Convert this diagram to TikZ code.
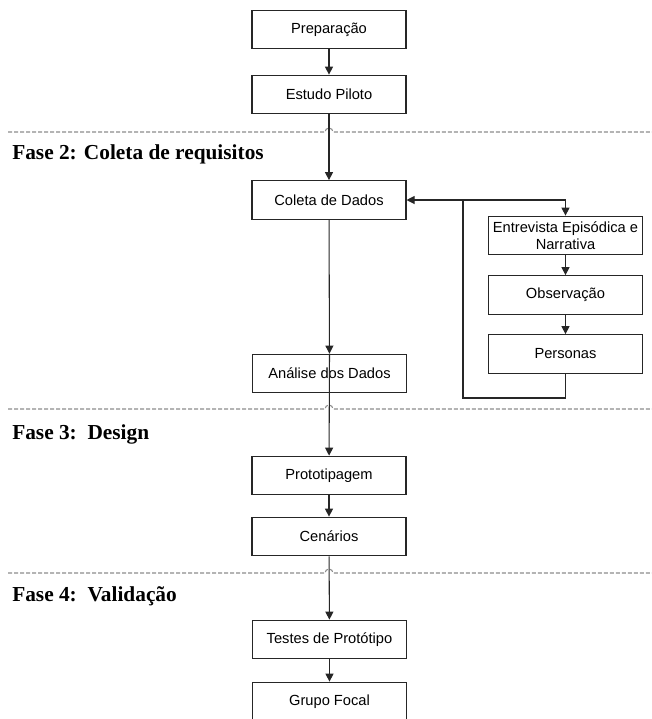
\documentclass[tikz,border=0pt]{standalone}
\usepackage{fontspec}
\setmainfont{Liberation Serif}
\newfontfamily\boxfont{Liberation Sans}
\usepackage{tikz}
\usetikzlibrary{arrows.meta}

\tikzset{
  etapa/.style={draw=black!85, line width=0.8pt, fill=white, minimum width=115.5pt,
    minimum height=29pt, inner sep=1pt, align=center, font=\boxfont\fontsize{11}{12.5}\selectfont},
  seta/.style={-{Triangle[length=6pt,width=6pt]}, line width=0.8pt, black!85},
  linha/.style={line width=0.8pt, black!85},
  fase/.style={anchor=west, inner sep=0pt, font=\bfseries\fontsize{16}{18}\selectfont},
  divisa/.style={dashed, dash pattern=on 3pt off 1.5pt, black!45, line width=0.8pt}
}

\begin{document}
\begin{tikzpicture}[x=0.75pt, y=-0.75pt]
\useasboundingbox (0,0) rectangle (652,719);
\clip (0,0) rectangle (652,719);
% Divisas entre fases
\draw [divisa] (8,132) -- (325,132) arc (180:360:4) -- (652,132);
\draw [divisa] (8,409) -- (325,409) arc (180:360:4) -- (652,409);
\draw [divisa] (8,573) -- (325,573) arc (180:360:4) -- (652,573);
% Fases
\node [fase] (f2) at (12,154) {Fase 2: Coleta de requisitos};
\node [fase] (f3) at (12,434) {Fase 3:\ \ Design};
\node [fase] (f4) at (12,596) {Fase 4:\ \ Validação};
% Etapas
\node [etapa] (prep) at (329,29.5) {Preparação};
\node [etapa] (piloto) at (329,94.5) {Estudo Piloto};
\node [etapa] (coleta) at (329,200) {Coleta de Dados};
\node [etapa] (analise) at (329.5,373.5) {Análise dos Dados};
\node [etapa] (proto) at (329,475.5) {Prototipagem};
\node [etapa] (cenarios) at (329,536.5) {Cenários};
\node [etapa] (testes) at (329.5,639.5) {Testes de Protótipo};
\node [etapa] (grupo) at (329.5,701.5) {Grupo Focal};
\node [etapa] (entrev) at (565.5,235.5) {Entrevista Episódica e\\Narrativa};
\node [etapa] (obs) at (565.5,295) {Observação};
\node [etapa] (pers) at (565.5,354) {Personas};
% Ligacoes
\coordinate (jn) at (463,200);
\coordinate (bk) at (463,398);
\draw [seta] (prep) -- (piloto);
\draw [seta] (piloto) -- (coleta);
\draw [seta] (coleta) -- (analise);
\draw [seta] (analise.north) -- (proto);
\draw [seta] (proto) -- (cenarios);
\draw [seta] (cenarios) -- (testes);
\draw [seta] (testes) -- (grupo);
\draw [seta] (jn) -- (coleta);
\draw [seta] (jn) -| (entrev);
\draw [seta] (entrev) -- (obs);
\draw [seta] (obs) -- (pers);
\draw [linha] (pers) |- (bk) -- (jn);
\end{tikzpicture}
\end{document}
